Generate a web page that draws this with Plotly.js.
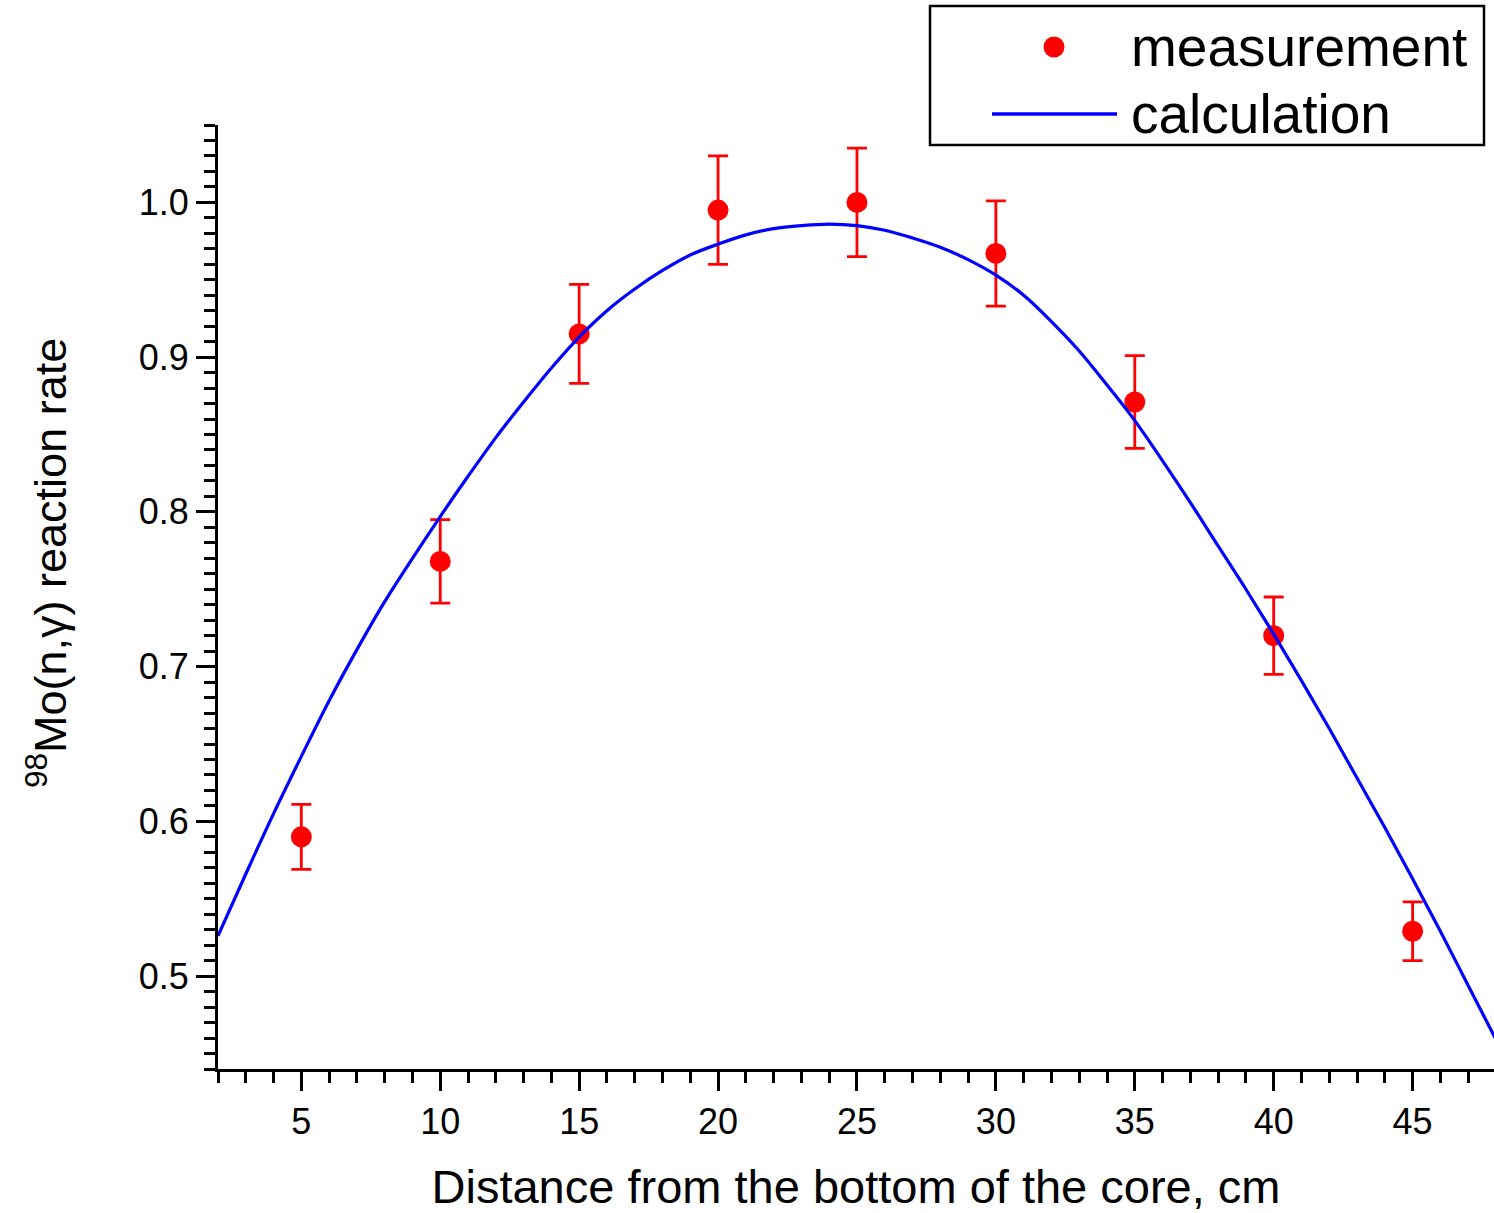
<!DOCTYPE html>
<html>
<head>
<meta charset="utf-8">
<script src="https://cdn.plot.ly/plotly-3.0.1.min.js"></script>
<style>html,body{margin:0;padding:0;background:#fff;}#chart{width:1494px;height:1213px;}</style>
</head>
<body>
<div id="chart"></div>
<script>
// Measurement data
const measX = [5, 10, 15, 20, 25, 30, 35, 40, 45];
const measY = [0.590, 0.768, 0.915, 0.995, 1.000, 0.967, 0.871, 0.720, 0.529];
const measErr = [0.021, 0.027, 0.032, 0.035, 0.035, 0.034, 0.030, 0.025, 0.019];

// Calculation curve
const calcX = [2, 3, 4, 5, 6, 7, 8, 9, 10, 11, 12, 13, 14, 15, 16, 17, 18, 19, 20, 21, 22, 23, 24, 25,
               26, 27, 28, 29, 30, 31, 32, 33, 34, 35, 36, 37, 38, 39, 40, 41, 42, 43, 44, 45, 46, 47, 48];
const calcY = [0.526, 0.566, 0.605, 0.642, 0.678, 0.711, 0.742, 0.770, 0.797, 0.823, 0.848, 0.871, 0.893, 0.913,
               0.930, 0.944, 0.956, 0.966, 0.973, 0.979, 0.983, 0.985, 0.986, 0.985, 0.982, 0.977, 0.971, 0.963,
               0.953, 0.940, 0.923, 0.904, 0.882, 0.859, 0.833, 0.806, 0.778, 0.750, 0.721, 0.691, 0.660, 0.628,
               0.596, 0.563, 0.529, 0.494, 0.459];

const xTickVals = [5, 10, 15, 20, 25, 30, 35, 40, 45];
const yTickVals = [0.5, 0.6, 0.7, 0.8, 0.9, 1.0];
const yTickText = ['0.5', '0.6', '0.7', '0.8', '0.9', '1.0'];
const seriesNames = ['measurement', 'calculation'];
const xTitle = 'Distance from the bottom of the core, cm';
const yTitle = '<sup>98</sup>Mo(n,γ) reaction rate';

const FONT = 'Liberation Sans, Arial, sans-serif';
const RED = '#ff0000', BLUE = '#0000ff';

// plot area geometry in pixels (for converting legend/title placement)
const W = 1494, H = 1213, ML = 218, MR = 0, MT = 125, MB = 144;
const PW = W - ML - MR, PH = H - MT - MB;
const px = v => (v - ML) / PW;          // pixel x -> paper x
const py = v => (H - MB - v) / PH;      // pixel y -> paper y

const traces = [
  {
    x: measX, y: measY, type: 'scatter', mode: 'markers', name: seriesNames[0],
    marker: {color: RED, size: 21, symbol: 'circle'},
    error_y: {type: 'data', array: measErr, visible: true, color: RED, thickness: 2.8, width: 10}
  },
  {
    x: calcX, y: calcY, type: 'scatter', mode: 'lines', name: seriesNames[1],
    line: {color: BLUE, width: 3.2, shape: 'spline', smoothing: 1}
  }
];

const layout = {
  width: W, height: H,
  margin: {l: ML, r: MR, t: MT, b: MB},
  paper_bgcolor: '#ffffff', plot_bgcolor: '#ffffff',
  font: {family: FONT, color: '#000'},
  showlegend: false,
  xaxis: {
    range: [2, 47.93], showgrid: false, zeroline: false,
    showline: true, linecolor: '#000', linewidth: 3, mirror: false,
    ticks: 'outside', ticklen: 19, tickwidth: 3, tickcolor: '#000',
    tickmode: 'array', tickvals: xTickVals,
    tickfont: {family: FONT, size: 36, color: '#000'},
    minor: {dtick: 1, tick0: 0, ticks: 'outside', ticklen: 11, tickwidth: 3, tickcolor: '#000', showgrid: false},
    title: {text: xTitle, font: {family: FONT, size: 47, color: '#000'}, standoff: 33}
  },
  yaxis: {
    range: [0.44, 1.05], showgrid: false, zeroline: false,
    showline: true, linecolor: '#000', linewidth: 3, mirror: false,
    ticks: 'outside', ticklen: 19, tickwidth: 3, tickcolor: '#000',
    tickmode: 'array', tickvals: yTickVals, ticktext: yTickText,
    tickfont: {family: FONT, size: 36, color: '#000'},
    minor: {dtick: 0.01, tick0: 0, ticks: 'outside', ticklen: 11, tickwidth: 3, tickcolor: '#000', showgrid: false}
  },
  shapes: [
    // legend box
    {type: 'rect', xref: 'paper', yref: 'paper', x0: px(930), x1: px(1484), y0: py(145), y1: py(6),
     line: {color: '#000', width: 2.5}, fillcolor: '#fff', layer: 'above'},
    // legend sample: measurement marker
    {type: 'circle', xref: 'paper', yref: 'paper', x0: px(1054 - 10.5), x1: px(1054 + 10.5),
     y0: py(47 + 10.5), y1: py(47 - 10.5), line: {width: 0}, fillcolor: RED, layer: 'above'},
    // legend sample: calculation line
    {type: 'line', xref: 'paper', yref: 'paper', x0: px(992), x1: px(1117), y0: py(114), y1: py(114),
     line: {color: BLUE, width: 3.3}, layer: 'above'}
  ],
  annotations: [
    {text: seriesNames[0], xref: 'paper', yref: 'paper', x: px(1129), y: py(47), xanchor: 'left', yanchor: 'middle',
     showarrow: false, font: {family: FONT, size: 55, color: '#000'}},
    {text: seriesNames[1], xref: 'paper', yref: 'paper', x: px(1129), y: py(114), xanchor: 'left', yanchor: 'middle',
     showarrow: false, font: {family: FONT, size: 55, color: '#000'}},
    {text: yTitle, xref: 'paper', yref: 'paper', x: px(47), y: py(563), xanchor: 'center', yanchor: 'middle',
     textangle: -90, showarrow: false, font: {family: FONT, size: 45, color: '#000'}}
  ]
};

Plotly.newPlot('chart', traces, layout, {displayModeBar: false, staticPlot: true});
</script>
</body>
</html>
